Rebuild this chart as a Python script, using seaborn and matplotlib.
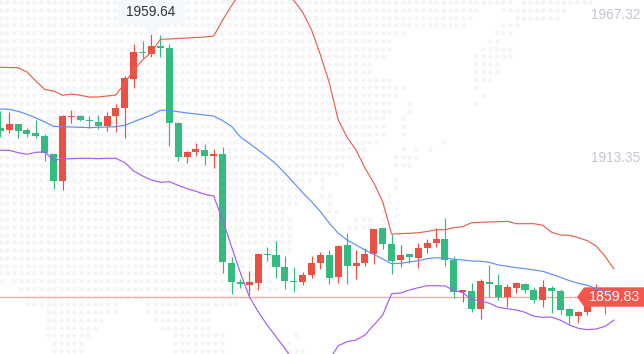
import numpy as np, pandas as pd
import matplotlib
matplotlib.use("Agg")
import matplotlib.pyplot as plt
from matplotlib.patches import Polygon
import seaborn as sns

# candles, oldest first
opens = [1924.29,1923.54,1925.8,1923.54,1922.41,1921.27,1914.48,1904.29,1928.26,1928.82,
         1927.31,1926.56,1925.05,1928.82,1931.84,1942.79,1952.98,1952.22,1955.24,1954.48,
         1926.18,1913.35,1915.24,1915.99,1913.73,1914.48,1873.34,1866.17,1865.16,1865.8,
         1876.85,1876.36,1871.83,1866.55,1866.17,1868.82,1873.34,1876.36,1868.06,1880.14,
         1872.21,1873.34,1876.74,1886.55,1880.51,1874.48,1876.74,1875.23,1879.0,1880.89,
         1882.4,1874.48,1862.4,1862.78,1855.98,1866.17,1865.04,1860.51,1863.91,1865.42,
         1863.15,1859.38,1863.91,1862.78,1855.98,1853.34,1854.85,1859.38,1863.15,1859.38]
closes = [1923.16,1925.8,1923.16,1922.03,1921.27,1914.86,1904.29,1928.82,1928.82,1927.31,
          1926.93,1925.05,1928.82,1931.84,1943.16,1952.98,1952.41,1955.24,1954.48,1926.18,
          1913.35,1915.24,1916.37,1913.73,1914.48,1873.84,1866.17,1865.53,1866.17,1876.74,
          1876.48,1871.83,1866.55,1866.17,1868.82,1873.34,1876.36,1867.68,1879.76,1872.21,
          1873.34,1876.74,1886.17,1880.51,1874.1,1876.36,1875.61,1879.0,1880.89,1882.4,
          1874.48,1862.4,1863.15,1855.98,1866.55,1865.42,1860.51,1864.29,1865.8,1863.15,
          1859.38,1864.29,1862.78,1855.61,1853.34,1854.85,1858.25,1863.15,1857.5,1860.4]
highs = [1930.71,1930.33,1925.8,1924.29,1927.31,1922.03,1914.86,1929.2,1931.09,1929.2,
         1928.82,1929.2,1930.33,1933.35,1943.92,1955.99,1957.13,1959.64,1959.39,1955.99,
         1926.56,1915.61,1918.63,1918.25,1916.37,1917.12,1875.61,1867.31,1870.32,1877.12,
         1879.38,1881.65,1875.99,1871.83,1869.95,1875.99,1877.5,1878.25,1880.14,1884.67,
         1878.25,1879.0,1886.17,1886.55,1884.29,1880.14,1876.74,1880.89,1882.4,1886.55,
         1890.33,1875.99,1863.15,1865.8,1867.31,1872.59,1869.19,1865.42,1866.17,1865.8,
         1864.29,1866.93,1864.66,1863.53,1856.36,1855.23,1861.27,1865.42,1864.29,1861.27]
lows = [1920.9,1922.41,1920.52,1920.9,1920.52,1911.84,1901.27,1900.89,1926.18,1926.93,
        1924.29,1923.91,1923.16,1922.78,1920.52,1939.39,1950.71,1951.09,1951.09,1917.5,
        1911.84,1911.08,1913.73,1910.33,1909.2,1869.68,1861.65,1863.91,1861.27,1863.15,
        1874.1,1867.68,1863.53,1862.4,1865.04,1867.68,1871.08,1865.42,1865.8,1865.42,
        1867.31,1872.21,1872.97,1878.63,1869.19,1871.83,1873.34,1871.46,1877.23,1879.38,
        1872.21,1860.13,1858.63,1854.85,1852.21,1860.51,1859.38,1856.74,1862.02,1862.02,
        1858.25,1856.74,1854.47,1854.1,1850.32,1850.7,1853.72,1857.12,1854.1,1856.99]

# bollinger bands
upper = [1947.2,1947.12,1947.05,1945.43,1942.03,1938.82,1938.26,1936.63,1937.12,1936.63,
         1935.99,1935.99,1936.37,1936.75,1941.28,1946.18,1949.96,1952.98,1957.77,1957.88,
         1958.07,1958.26,1958.45,1958.64,1959.01,1965.05,1970.45,1975.62,1978.26,1979.39,
         1980.15,1980.15,1976.37,1972.41,1967.96,1961.28,1951.84,1941.28,1927.31,1920.78,
         1915.99,1909.2,1903.54,1896.48,1884.29,1884.4,1884.55,1884.78,1885.23,1885.91,
         1885.91,1886.67,1887.04,1888.55,1888.7,1888.82,1888.93,1889.08,1888.18,1888.18,
         1888.18,1887.57,1884.93,1883.91,1883.8,1882.89,1881.76,1879.76,1875.87,1871.08]
middle = [1931.46,1931.35,1930.6,1929.46,1928.07,1926.56,1924.93,1924.78,1924.67,1924.56,
          1924.41,1924.56,1924.67,1924.78,1925.31,1926.67,1927.95,1929.2,1930.97,1930.97,
          1930.44,1929.95,1929.58,1929.2,1928.82,1927.05,1924.93,1920.9,1918.52,1915.99,
          1913.46,1910.71,1907.2,1903.65,1899.87,1896.48,1892.7,1888.33,1884.55,1882.02,
          1880.14,1878.25,1876.63,1874.85,1873.08,1873.23,1873.72,1874.21,1874.97,1875.34,
          1875.23,1874.74,1874.48,1874.1,1873.99,1873.61,1872.59,1872.1,1871.57,1871.19,
          1870.7,1870.21,1869.08,1867.95,1866.66,1865.68,1864.93,1863.65,1862.51,1861.38]
lower = [1915.88,1915.88,1914.97,1914.37,1915.12,1915.24,1912.1,1912.6,1912.71,1912.86,
         1912.86,1912.71,1912.86,1912.86,1911.2,1908.06,1906.18,1904.67,1903.8,1904.03,
         1902.67,1901.38,1900.4,1899.27,1898.63,1889.57,1879.5,1869.57,1860.63,1854.96,
         1849.94,1845.53,1841.15,1836.09,1831.07,1831.07,1832.21,1836.74,1842.13,1843.64,
         1844.28,1846.17,1849.94,1853.72,1861.76,1862.02,1863.15,1864.02,1864.78,1864.78,
         1864.66,1863.04,1862.14,1859.64,1859.12,1858.13,1856.62,1856.1,1855.61,1854.74,
         1853.23,1852.85,1852.96,1851.72,1849.94,1848.7,1848.17,1848.44,1849.45,1851.83]

axis_ticks = [1967.32, 1913.35]
axis_labels = ["1967.32", "1913.35"]
hover_label = "1959.64"
last_label = "1859.83"

# faint dotted world map behind the chart: pixel spans per dot row
map_spans = [
    [(0,512),(520,592)], [(0,477),(502,565)], [(0,470),(515,557)], [(0,463),(502,517)],
    [(0,403),(495,510)], [(0,395),(488,503)], [(0,390),(482,510)], [(0,383),(475,510)],
    [(0,370),(475,503)], [(0,375),(475,503)], [(0,390),(475,490)], [(0,403),(475,483)],
    [(0,402),(480,485)], [(0,395),(408,411),(475,478)], [(0,395),(408,411)],
    [(0,383),(400,403)], [(0,383),(400,403)], [(0,383),(400,403)], [(0,380),(441,443)],
    [(0,367),(400,403),(415,418),(428,431)], [(0,367),(395,417)], [(0,343),(395,410)],
    [(0,337)], [(0,310),(320,323),(394,397)], [(0,303),(320,323),(394,397)],
    [(0,297),(320,330),(388,395)], [(0,297),(328,335),(382,395)], [(0,283),(328,337),(382,388)],
    [(0,290),(355,375),(382,388)], [(0,290),(348,375)], [(0,290)], [(0,290)], [(0,290)],
    [(0,280)], [(0,275)], [(0,258)], [(0,2),(13,273)], [(20,277)], [(27,268)],
    [(27,117),(147,240)], [(47,117),(147,215)], [(47,103),(153,215)], [(47,97),(160,215)],
    [(47,90),(173,223),(293,296)], [(53,83),(173,228),(288,295)], [(53,83),(173,228),(288,303)],
]

sns.set_theme(style="white")
plt.rcParams['font.family'] = ['Liberation Sans', 'DejaVu Sans']

W, H = 644, 354
fig = plt.figure(figsize=(W/100, H/100), dpi=100)
ax = fig.add_axes([0, 0, 1, 1])

def frac(x, y):
    return x/W, 1 - y/H

# background dots
dx, dy = [], []
for k, spans in enumerate(map_spans):
    for a, b in spans:
        for j in range(0, 97):
            px = 0.7 + 6.7*j
            if a <= px <= b:
                dx.append(px/W); dy.append(1 - (2 + 7.75*k)/H)
ax.scatter(dx, dy, s=11, color="#f5f5f6", linewidths=0, transform=ax.transAxes, zorder=0)

candles = pd.DataFrame({"i": range(len(opens)), "open": opens, "close": closes, "high": highs, "low": lows})
candles["color"] = np.where(candles["close"] >= candles["open"], "#ea5145", "#35ba80")

ax.axhline(closes[-1], color="#ecaaa4", lw=0.9, zorder=1)
ax.vlines(candles["i"], candles["low"], candles["high"], colors=candles["color"], lw=0.85, zorder=2)
ax.bar(candles["i"], (candles["close"]-candles["open"]).abs(), bottom=candles[["open","close"]].min(axis=1),
       width=0.79, color=candles["color"], linewidth=0, zorder=3)

bands = pd.DataFrame({"i": range(len(upper)), "upper": upper, "middle": middle, "lower": lower})
bands = bands.melt("i", var_name="band", value_name="price")
sns.lineplot(data=bands, x="i", y="price", hue="band", estimator=None, legend=False, ax=ax, lw=0.85, zorder=5,
             palette={"upper": "#e8604c", "middle": "#5b8ff9", "lower": "#a45df5"})

ax.set_xlim(-0.034, 72.38)
ax.set_ylim(1839.0, 1972.6)
ax.set_xticks([])
ax.set_xlabel(""); ax.set_ylabel("")
sns.despine(ax=ax, left=True, bottom=True)
ax.yaxis.tick_right()
ax.set_yticks(axis_ticks, axis_labels)
ax.tick_params(axis="y", length=0, pad=-38.5, labelsize=9.8, labelcolor="#c3c5d2")

# last price tag
top, bot = 287.3, 306.7
mid = (top + bot)/2
tag = Polygon([frac(577, mid), frac(584, top), frac(644, top), frac(644, bot), frac(584, bot)],
              closed=True, transform=ax.transAxes, facecolor="#f5574e", edgecolor="none", zorder=4)
ax.add_patch(tag)
ax.text(614/W, 1 - mid/H, last_label, transform=ax.transAxes, ha="center", va="center",
        color="white", fontsize=10.2, zorder=6)

# hover tooltip on the high of candle 17
tip = Polygon([frac(118, 0), frac(185, 0), frac(185, 24), frac(162, 24), frac(152, 35), frac(142, 24), frac(118, 24)],
              closed=True, transform=ax.transAxes, facecolor="#f5f8fb", edgecolor="none", zorder=6)
ax.add_patch(tip)
ax.text(151/W, 1 - 11.5/H, hover_label, transform=ax.transAxes, ha="center", va="center",
        color="#333333", fontsize=9.8, zorder=7)

fig.savefig("out.png", dpi=100)
